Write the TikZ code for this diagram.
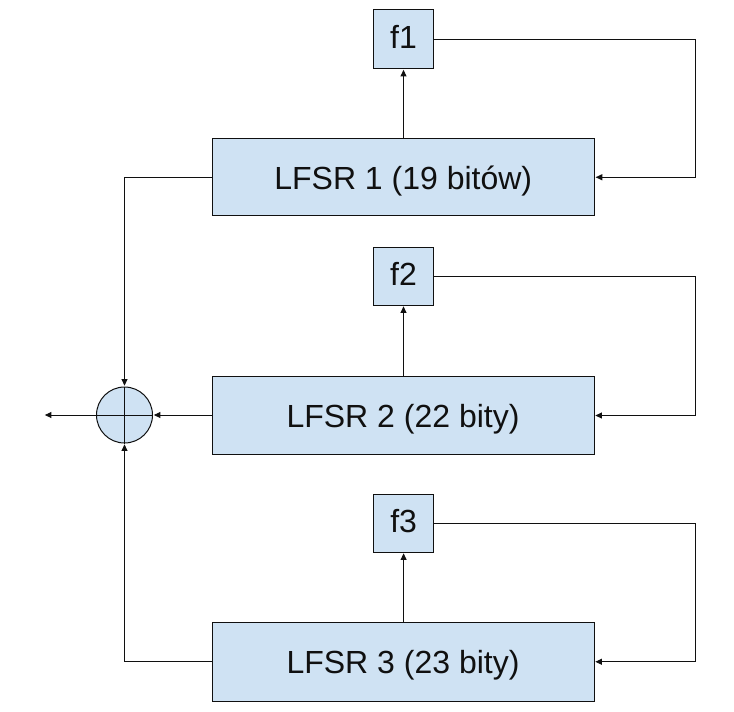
\documentclass[tikz,border=0pt]{standalone}
\usepackage{fontspec}
\setmainfont{Liberation Sans}
\usetikzlibrary{arrows.meta,calc}
\definecolor{boxfill}{HTML}{CFE2F3}
\definecolor{ink}{HTML}{101010}
\newcommand{\lowered}[2]{\raisebox{-#1}[0pt][0pt]{#2}}
\tikzset{
  x=0.75pt,y=-0.75pt,
  block/.style={draw=ink,fill=boxfill,line width=0.75pt,inner sep=0pt,text=ink,font=\fontsize{24pt}{28pt}\selectfont},
  link/.style={draw=ink,line width=0.75pt},
  arrow/.style={link,-{Triangle[length=5pt,width=4.5pt]},shorten >=0.6pt},
}
\begin{document}
\begin{tikzpicture}
\useasboundingbox (0,0) rectangle (734,711);
\node[block,minimum width=45pt,minimum height=44.25pt] (f1) at (403.5,39) {\lowered{6.75pt}{f1}};
\node[block,minimum width=286.6pt,minimum height=58.1pt] (l1) at (403.25,177.25) {\lowered{9pt}{LFSR 1 (19 bitów)}};
\node[block,minimum width=45pt,minimum height=43.5pt] (f2) at (403.5,276) {\lowered{7.3pt}{f2}};
\node[block,minimum width=286.5pt,minimum height=58.2pt] (l2) at (403,415.5) {\lowered{8.9pt}{LFSR 2 (22 bity)}};
\node[block,minimum width=44.9pt,minimum height=43.5pt] (f3) at (403.6,523) {\lowered{6.8pt}{f3}};
\node[block,minimum width=286.5pt,minimum height=58.9pt] (l3) at (403,661.75) {\lowered{9pt}{LFSR 3 (23 bity)}};
\node[draw=ink,fill=boxfill,line width=0.75pt,circle,minimum size=42pt,inner sep=0pt] (x) at (124.5,415) {};
\draw[link] (x.north) -- (x.south);
\draw[link] (x.west) -- (x.east);
\coordinate (out) at (44,415);
\coordinate (c1) at (695,39);
\coordinate (c2) at (695,276);
\coordinate (c3) at (695,523);
\draw[arrow] (l1.north -| f1) -- (f1.south);
\draw[arrow] (l2.north -| f2) -- (f2.south);
\draw[arrow] (l3.north -| f3) -- (f3.south);
\draw[arrow] (f1.east) -- (c1) |- (l1.east);
\draw[arrow] (f2.east) -- (c2) |- (l2.east);
\draw[arrow] (f3.east) -- (c3) |- (l3.east);
\draw[arrow] (l1.west) -| (x.north);
\draw[arrow] (x.east -| l2.west) -- (x.east);
\draw[arrow] (l3.west) -| (x.south);
\draw[arrow] (x.west) -- (out);
\end{tikzpicture}
\end{document}
